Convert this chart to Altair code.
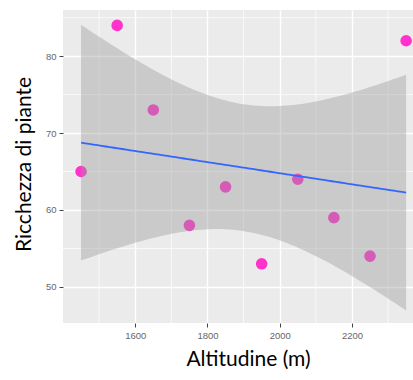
import altair as alt
import numpy as np
import pandas as pd

altitude = [1450, 1550, 1650, 1750, 1850, 1950, 2050, 2150, 2250, 2350]
richness = [65, 84, 73, 58, 63, 53, 64, 59, 54, 82]
x_ticks = [1600, 1800, 2000, 2200]
x_minor = [1500, 1700, 1900, 2100, 2300]
y_ticks = [50, 60, 70, 80]
y_minor = [55, 65, 75, 85]

df = pd.DataFrame({"alt": altitude, "ric": richness})

# linear model fit with 95% confidence band (as geom_smooth(method="lm"))
x = np.array(altitude, float)
y = np.array(richness, float)
n = len(x)
xm = x.mean()
sxx = ((x - xm) ** 2).sum()
b = ((x - xm) * (y - y.mean())).sum() / sxx
a = y.mean() - b * xm
s = np.sqrt(((y - (a + b * x)) ** 2).sum() / (n - 2))
t = 2.306004
grid = np.linspace(x.min(), x.max(), 80)
fit = a + b * grid
se = s * np.sqrt(1 / n + (grid - xm) ** 2 / sxx)
band = pd.DataFrame({"alt": grid, "fit": fit, "lo": fit - t * se, "hi": fit + t * se})

xs = alt.Scale(domain=[1400, 2369], nice=False, zero=False)
ys = alt.Scale(domain=[45.3, 86.0], nice=False, zero=False)

title_font = "Lato"
label_font = "Liberation Sans"

x_axis = alt.Axis(values=x_ticks, format="d", grid=True, gridColor="white", gridWidth=1.4,
                  domain=False, tickColor="#444", tickSize=4, labelPadding=3,
                  labelColor="#666", labelFontSize=9.5, labelFont=label_font,
                  title="Altitudine (m)", titleFont=title_font, titleFontSize=21,
                  titleFontWeight="normal", titleColor="black",
                  titleX=185, titleY=42, titleBaseline="alphabetic")
y_axis = alt.Axis(values=y_ticks, format="d", grid=True, gridColor="white", gridWidth=1.4,
                  domain=False, tickColor="#444", tickSize=4, labelPadding=3,
                  labelColor="#666", labelFontSize=9.5, labelFont=label_font,
                  title="Ricchezza di piante", titleFont=title_font, titleFontSize=21,
                  titleFontWeight="normal", titleColor="black",
                  titleX=-33, titleY=154, titleBaseline="alphabetic", titleAngle=270)


def X(f):
    return alt.X(f, scale=xs, axis=x_axis)


def Y(f):
    return alt.Y(f, scale=ys, axis=y_axis)


minor_x = alt.Chart(pd.DataFrame({"v": x_minor})).mark_rule(color="white", strokeWidth=0.7).encode(
    x=X("v:Q"))
minor_y = alt.Chart(pd.DataFrame({"w": y_minor})).mark_rule(color="white", strokeWidth=0.7).encode(
    y=Y("w:Q"))

pts = alt.Chart(df).mark_circle(size=135, color="#FF33CC", opacity=1).encode(
    x=X("alt:Q"), y=Y("ric:Q"))

ribbon = alt.Chart(band).mark_area(color="#999999", opacity=0.4).encode(
    x=X("alt:Q"), y=Y("lo:Q"), y2="hi:Q")
line = alt.Chart(band).mark_line(color="#3366FF", strokeWidth=1.8).encode(
    x=X("alt:Q"), y=Y("fit:Q"))

chart = alt.layer(minor_x, minor_y, pts, ribbon, line).properties(
    width=350, height=313,
    autosize=alt.AutoSizeParams(type="none"),
    padding={"left": 63, "top": 10, "right": 0, "bottom": 57},
    background="white",
).configure_view(fill="#EBEBEB", stroke=None)

chart.save("out.html", embed_options={"renderer": "svg", "actions": False})
